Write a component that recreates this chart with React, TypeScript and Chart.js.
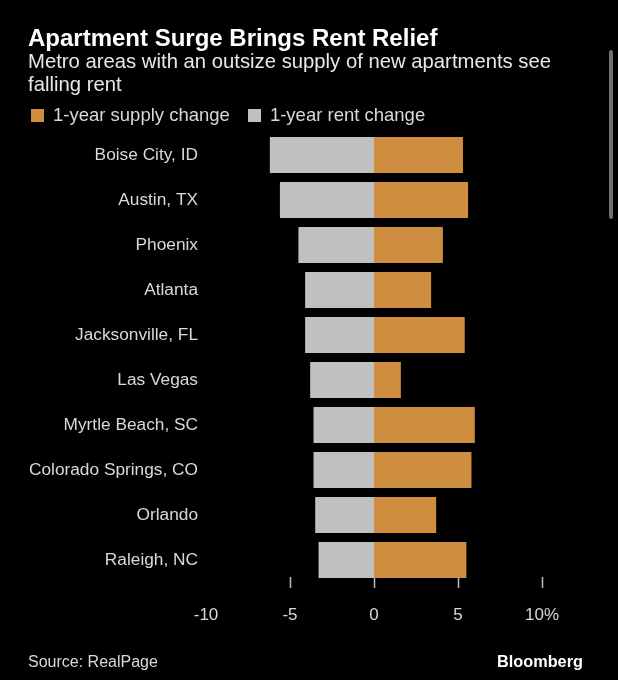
import React, { useEffect, useRef } from "react";
import { Chart, registerables } from "chart.js";

Chart.register(...registerables);

const categories = [
  "Boise City, ID",
  "Austin, TX",
  "Phoenix",
  "Atlanta",
  "Jacksonville, FL",
  "Las Vegas",
  "Myrtle Beach, SC",
  "Colorado Springs, CO",
  "Orlando",
  "Raleigh, NC",
];
const supplyChange = [5.3, 5.6, 4.1, 3.4, 5.4, 1.6, 6.0, 5.8, 3.7, 5.5];
const rentChange = [-6.2, -5.6, -4.5, -4.1, -4.1, -3.8, -3.6, -3.6, -3.5, -3.3];
const tickValues = [-10, -5, 0, 5, 10];
const markedTicks = [-5, 0, 5, 10];

const ORANGE = "#CF8D40";
const GREY = "#C0C0C0";
const FONT = "'Liberation Sans', Arial, sans-serif";

const tickMarkPlugin = {
  id: "tickMarks",
  beforeDatasetsDraw(chart: any) {
    const x = chart.scales.x;
    const { bottom } = chart.chartArea;
    const ctx = chart.ctx;
    ctx.save();
    ctx.strokeStyle = "#bdbdbd";
    ctx.lineWidth = 1.5;
    markedTicks.forEach((v) => {
      const px = Math.round(x.getPixelForValue(v)) + 0.5;
      ctx.beginPath();
      ctx.moveTo(px, bottom - 5.5);
      ctx.lineTo(px, bottom + 5.5);
      ctx.stroke();
    });
    ctx.restore();
  },
};

export default function App() {
  const ref = useRef<HTMLCanvasElement | null>(null);

  useEffect(() => {
    document.body.style.margin = "0";
    document.body.style.background = "#000";
    const chart = new Chart(ref.current as HTMLCanvasElement, {
      type: "bar",
      data: {
        labels: categories,
        datasets: [
          {
            label: "1-year supply change",
            data: supplyChange,
            backgroundColor: ORANGE,
            borderWidth: 0,
            barPercentage: 0.8,
            categoryPercentage: 1,
          },
          {
            label: "1-year rent change",
            data: rentChange,
            backgroundColor: GREY,
            borderWidth: 0,
            barPercentage: 0.8,
            categoryPercentage: 1,
          },
        ],
      },
      options: {
        indexAxis: "y",
        animation: false,
        responsive: false,
        maintainAspectRatio: false,
        layout: { padding: { top: 132.5, left: 0, right: 76, bottom: 0 } },
        plugins: {
          legend: { display: false },
          title: { display: false },
          tooltip: { enabled: false },
        },
        scales: {
          x: {
            type: "linear",
            stacked: true,
            min: -10,
            max: 10,
            afterBuildTicks: (scale: any) => {
              scale.ticks = tickValues.map((v) => ({ value: v }));
            },
            afterFit: (scale: any) => {
              scale.height = 97.5;
            },
            grid: { display: false, drawTicks: false },
            border: { display: false },
            ticks: {
              padding: 22.5,
              color: "#d9d9d9",
              font: { family: FONT, size: 17 },
              maxRotation: 0,
              callback: (v: any) => (Number(v) === 10 ? "10%" : String(v)),
            },
          },
          y: {
            stacked: true,
            afterFit: (scale: any) => {
              scale.width = 206;
            },
            grid: { display: false, drawTicks: false },
            border: { display: false },
            ticks: {
              padding: 8,
              color: "#d9d9d9",
              font: { family: FONT, size: 17.3 },
            },
          },
        },
      },
      plugins: [tickMarkPlugin],
    } as any);
    return () => chart.destroy();
  }, []);

  const sq = (c: string) => ({
    display: "inline-block",
    width: 13,
    height: 13,
    background: c,
    marginRight: 9,
    verticalAlign: "-1px",
  });

  return (
    <div
      style={{
        position: "fixed",
        left: 0,
        top: 0,
        width: 618,
        height: 680,
        background: "#000",
        overflow: "hidden",
        fontFamily: FONT,
      }}
    >
      <canvas ref={ref} width={618} height={680} style={{ position: "absolute", left: 0, top: 0 }} />
      <div style={{ position: "absolute", left: 28, top: 24, color: "#fff", fontWeight: "bold", fontSize: 24, lineHeight: "28px", whiteSpace: "nowrap" }}>
        Apartment Surge Brings Rent Relief
      </div>
      <div style={{ position: "absolute", left: 28, top: 50, width: 565, color: "#e8e8e8", fontSize: 20.3, lineHeight: "23px" }}>
        Metro areas with an outsize supply of new apartments see falling rent
      </div>
      <div style={{ position: "absolute", left: 31, top: 104, color: "#d9d9d9", fontSize: 18.5, lineHeight: "22px", whiteSpace: "nowrap" }}>
        <span style={sq(ORANGE)} />
        <span style={{ marginRight: 18 }}>1-year supply change</span>
        <span style={sq(GREY)} />
        <span>1-year rent change</span>
      </div>
      <div style={{ position: "absolute", left: 28, top: 651, color: "#d9d9d9", fontSize: 16, lineHeight: "22px" }}>
        Source: RealPage
      </div>
      <div style={{ position: "absolute", left: 497, top: 650, color: "#fff", fontWeight: "bold", fontSize: 16.3, lineHeight: "22px" }}>
        Bloomberg
      </div>
      <div style={{ position: "absolute", left: 609, top: 50, width: 4, height: 169, background: "#707070", borderRadius: 2 }} />
    </div>
  );
}
